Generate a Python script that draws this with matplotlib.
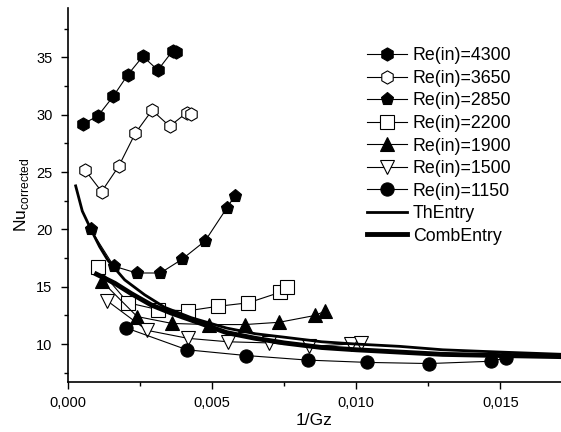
import matplotlib
matplotlib.use('Agg')
import matplotlib.pyplot as plt
from matplotlib.ticker import MultipleLocator, FuncFormatter

plt.rcParams['font.family'] = ['Liberation Sans', 'DejaVu Sans']

#------------------------------------------------
# data (x = 1/Gz, y = Nu corrected)
x_4300 = [0.00052, 0.00104, 0.00157, 0.00208, 0.00260, 0.00312, 0.00364, 0.00376]
y_4300 = [29.2, 29.9, 31.6, 33.5, 35.1, 33.9, 35.6, 35.5]

x_3650 = [0.00059, 0.00117, 0.00176, 0.00234, 0.00292, 0.00353, 0.00413, 0.00426]
y_3650 = [25.2, 23.3, 25.5, 28.4, 30.4, 29.0, 30.2, 30.1]

x_2850 = [0.00079, 0.00159, 0.00238, 0.00321, 0.00396, 0.00476, 0.00552, 0.00578]
y_2850 = [20.0, 16.8, 16.2, 16.2, 17.4, 19.0, 21.9, 22.9]

x_2200 = [0.00103, 0.00209, 0.00313, 0.00416, 0.00522, 0.00626, 0.00734, 0.00759]
y_2200 = [16.7, 13.6, 13.0, 12.9, 13.3, 13.6, 14.5, 15.0]

x_1900 = [0.00117, 0.00240, 0.00361, 0.00488, 0.00613, 0.00733, 0.00858, 0.00893]
y_1900 = [15.5, 12.4, 11.8, 11.7, 11.7, 11.9, 12.5, 12.9]

x_1500 = [0.00135, 0.00274, 0.00416, 0.00555, 0.00697, 0.00837, 0.00982, 0.01017]
y_1500 = [13.8, 11.2, 10.5, 10.2, 10.1, 9.8, 10.0, 10.1]

x_1150 = [0.00203, 0.00413, 0.00618, 0.00832, 0.01038, 0.01253, 0.01467, 0.01519]
y_1150 = [11.4, 9.5, 9.0, 8.6, 8.4, 8.3, 8.5, 8.8]

x_th = [0.00027, 0.00050, 0.00082, 0.00110, 0.00139, 0.00197, 0.00266, 0.00336, 0.00428,
        0.0055, 0.0065, 0.0075, 0.0088, 0.0100, 0.0115, 0.0130, 0.0150, 0.0172]
y_th = [23.8, 21.6, 19.9, 18.5, 17.3, 15.6, 14.3, 13.2, 12.3,
        11.4, 10.9, 10.6, 10.2, 10.0, 9.8, 9.5, 9.3, 9.1]

x_comb = [0.00099, 0.00163, 0.0022, 0.0029, 0.00359, 0.0045, 0.0055, 0.0065, 0.0075,
          0.0088, 0.0100, 0.0115, 0.0130, 0.0150, 0.0172]
y_comb = [16.1, 15.3, 14.4, 13.4, 12.7, 11.9, 11.0, 10.5, 10.1,
          9.7, 9.5, 9.3, 9.1, 9.0, 8.9]

series = [
    ('Re(in)=4300', x_4300, y_4300, 'h', 'k'),
    ('Re(in)=3650', x_3650, y_3650, 'h', 'w'),
    ('Re(in)=2850', x_2850, y_2850, 'p', 'k'),
    ('Re(in)=2200', x_2200, y_2200, 's', 'w'),
    ('Re(in)=1900', x_1900, y_1900, '^', 'k'),
    ('Re(in)=1500', x_1500, y_1500, 'v', 'w'),
    ('Re(in)=1150', x_1150, y_1150, 'o', 'k'),
]

#------------------------------------------------
fig = plt.figure(figsize=(5.61, 4.32), dpi=100)
ax = fig.add_axes([0.121, 0.116, 0.879, 0.865])

for name, xs, ys, mk, fc in series:
    ax.plot(xs, ys, color='k', lw=0.8, marker=mk, markersize=9.5,
            markerfacecolor=fc, markeredgecolor='k', markeredgewidth=0.8, label=name)

ax.plot(x_th, y_th, color='k', lw=2.0, label='ThEntry', zorder=3)
ax.plot(x_comb, y_comb, color='k', lw=3.5, label='CombEntry', zorder=3)

ax.set_xlim(0, 0.0171)
ax.set_ylim(6.7, 39.3)

ax.xaxis.set_major_locator(MultipleLocator(0.005))
ax.xaxis.set_minor_locator(MultipleLocator(0.0025))
ax.yaxis.set_major_locator(MultipleLocator(5))
ax.yaxis.set_minor_locator(MultipleLocator(2.5))
ax.xaxis.set_major_formatter(FuncFormatter(lambda v, p: '{:.3f}'.format(v).replace('.', ',')))
ax.yaxis.set_major_formatter(FuncFormatter(lambda v, p: '{:.0f}'.format(v)))

ax.spines['top'].set_visible(False)
ax.spines['right'].set_visible(False)
ax.spines['left'].set_linewidth(1.2)
ax.spines['bottom'].set_linewidth(1.2)
ax.tick_params(which='major', direction='out', length=5, width=1.0, labelsize=10.5)
ax.tick_params(which='minor', direction='out', length=3, width=1.0)
ax.tick_params(axis='x', which='major', pad=5)
ax.tick_params(axis='y', which='major', pad=6)

ax.set_xlabel('1/Gz', fontsize=12.5, labelpad=2)
ax.set_ylabel(r'Nu$_{\mathregular{corrected}}$', fontsize=12.5, labelpad=4)

ax.legend(loc='upper left', bbox_to_anchor=(0.592, 0.914), frameon=False, fontsize=12.8,
          handlelength=2.25, handletextpad=0.34, labelspacing=0.31, borderaxespad=0)

fig.savefig('out.png', dpi=100)
